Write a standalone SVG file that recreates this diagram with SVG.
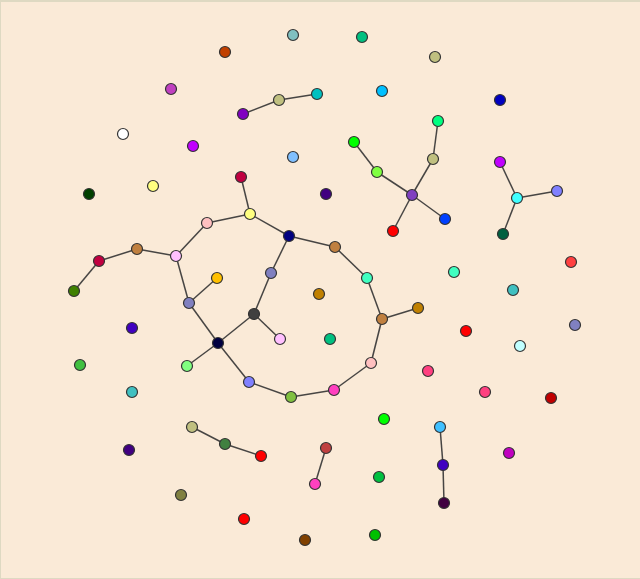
<svg xmlns="http://www.w3.org/2000/svg" width="640" height="579" viewBox="0 0 640 579">
<style>
.e line{stroke:#333;stroke-width:1.5;stroke-opacity:0.9}
.n circle{stroke:#333;stroke-width:1.2}
</style>
<rect x="0" y="0" width="640" height="579" fill="#ded9c2"/>
<rect x="1" y="2" width="639" height="576" fill="#faead7"/>
<g class="e" id="connectors">
<line x1="243" y1="114" x2="279" y2="100"/>
<line x1="279" y1="100" x2="317" y2="94"/>
<line x1="354" y1="142" x2="377" y2="172"/>
<line x1="377" y1="172" x2="412" y2="195"/>
<line x1="438" y1="121" x2="433" y2="159"/>
<line x1="433" y1="159" x2="412" y2="195"/>
<line x1="412" y1="195" x2="445" y2="219"/>
<line x1="412" y1="195" x2="393" y2="231"/>
<line x1="500" y1="162" x2="517" y2="198"/>
<line x1="517" y1="198" x2="557" y2="191"/>
<line x1="517" y1="198" x2="503" y2="234"/>
<line x1="241" y1="177" x2="250" y2="214"/>
<line x1="250" y1="214" x2="207" y2="223"/>
<line x1="207" y1="223" x2="176" y2="256"/>
<line x1="250" y1="214" x2="289" y2="236"/>
<line x1="289" y1="236" x2="335" y2="247"/>
<line x1="335" y1="247" x2="367" y2="278"/>
<line x1="367" y1="278" x2="382" y2="319"/>
<line x1="382" y1="319" x2="371" y2="363"/>
<line x1="371" y1="363" x2="334" y2="390"/>
<line x1="334" y1="390" x2="291" y2="397"/>
<line x1="291" y1="397" x2="249" y2="382"/>
<line x1="249" y1="382" x2="218" y2="343"/>
<line x1="382" y1="319" x2="418" y2="308"/>
<line x1="289" y1="236" x2="271" y2="273"/>
<line x1="271" y1="273" x2="254" y2="314"/>
<line x1="254" y1="314" x2="218" y2="343"/>
<line x1="254" y1="314" x2="280" y2="339"/>
<line x1="218" y1="343" x2="189" y2="303"/>
<line x1="189" y1="303" x2="176" y2="256"/>
<line x1="189" y1="303" x2="217" y2="278"/>
<line x1="218" y1="343" x2="187" y2="366"/>
<line x1="176" y1="256" x2="137" y2="249"/>
<line x1="137" y1="249" x2="99" y2="261"/>
<line x1="99" y1="261" x2="74" y2="291"/>
<line x1="192" y1="427" x2="225" y2="444"/>
<line x1="225" y1="444" x2="261" y2="456"/>
<line x1="326" y1="448" x2="315" y2="484"/>
<line x1="440" y1="427" x2="443" y2="465"/>
<line x1="443" y1="465" x2="444" y2="503"/>
</g>
<g class="n">
<g id="n1"><circle cx="171" cy="89" r="5.5" fill="#c040c0"/></g>
<g id="n2"><circle cx="123" cy="134" r="5.5" fill="#ffffff"/></g>
<g id="n3"><circle cx="193" cy="146" r="5.5" fill="#c000ff"/></g>
<g id="n4"><circle cx="153" cy="186" r="5.5" fill="#ffff80"/></g>
<g id="n5"><circle cx="89" cy="194" r="5.5" fill="#004000"/></g>
<g id="n6"><circle cx="225" cy="52" r="5.5" fill="#c04000"/></g>
<g id="n7"><circle cx="293" cy="35" r="5.5" fill="#80c0c0"/></g>
<g id="n8"><circle cx="362" cy="37" r="5.5" fill="#00c080"/></g>
<g id="n9"><circle cx="279" cy="100" r="5.5" fill="#c0c080"/></g>
<g id="n10"><circle cx="317" cy="94" r="5.5" fill="#00c0c0"/></g>
<g id="n11"><circle cx="243" cy="114" r="5.5" fill="#8000c0"/></g>
<g id="n12"><circle cx="382" cy="91" r="5.5" fill="#00c0ff"/></g>
<g id="n13"><circle cx="354" cy="142" r="5.5" fill="#00ff00"/></g>
<g id="n14"><circle cx="377" cy="172" r="5.5" fill="#80ff40"/></g>
<g id="n15"><circle cx="293" cy="157" r="5.5" fill="#80c0ff"/></g>
<g id="n16"><circle cx="241" cy="177" r="5.5" fill="#c00040"/></g>
<g id="n17"><circle cx="326" cy="194" r="5.5" fill="#400080"/></g>
<g id="n18"><circle cx="412" cy="195" r="5.5" fill="#8040c0"/></g>
<g id="n19"><circle cx="435" cy="57" r="5.5" fill="#c0c080"/></g>
<g id="n20"><circle cx="500" cy="100" r="5.5" fill="#0000c0"/></g>
<g id="n21"><circle cx="438" cy="121" r="5.5" fill="#00ff80"/></g>
<g id="n22"><circle cx="433" cy="159" r="5.5" fill="#c0c080"/></g>
<g id="n23"><circle cx="500" cy="162" r="5.5" fill="#c000ff"/></g>
<g id="n24"><circle cx="557" cy="191" r="5.5" fill="#8080ff"/></g>
<g id="n25"><circle cx="517" cy="198" r="5.5" fill="#40ffff"/></g>
<g id="n26"><circle cx="207" cy="223" r="5.5" fill="#ffc0c0"/></g>
<g id="n27"><circle cx="137" cy="249" r="5.5" fill="#c08040"/></g>
<g id="n28"><circle cx="99" cy="261" r="5.5" fill="#c00040"/></g>
<g id="n29"><circle cx="176" cy="256" r="5.5" fill="#ffc0ff"/></g>
<g id="n30"><circle cx="74" cy="291" r="5.5" fill="#408000"/></g>
<g id="n31"><circle cx="217" cy="278" r="5.5" fill="#ffc000"/></g>
<g id="n32"><circle cx="189" cy="303" r="5.5" fill="#8080c0"/></g>
<g id="n33"><circle cx="132" cy="328" r="5.5" fill="#4000c0"/></g>
<g id="n34"><circle cx="218" cy="343" r="5.5" fill="#000040"/></g>
<g id="n35"><circle cx="80" cy="365" r="5.5" fill="#40c040"/></g>
<g id="n36"><circle cx="187" cy="366" r="5.5" fill="#80ff80"/></g>
<g id="n37"><circle cx="132" cy="392" r="5.5" fill="#40c0c0"/></g>
<g id="n38"><circle cx="250" cy="214" r="5.5" fill="#ffff80"/></g>
<g id="n39"><circle cx="289" cy="236" r="5.5" fill="#000080"/></g>
<g id="n40"><circle cx="335" cy="247" r="5.5" fill="#c08040"/></g>
<g id="n41"><circle cx="271" cy="273" r="5.5" fill="#8080c0"/></g>
<g id="n42"><circle cx="367" cy="278" r="5.5" fill="#40ffc0"/></g>
<g id="n43"><circle cx="319" cy="294" r="5.5" fill="#c08000"/></g>
<g id="n44"><circle cx="254" cy="314" r="5.5" fill="#404040"/></g>
<g id="n45"><circle cx="382" cy="319" r="5.5" fill="#c08040"/></g>
<g id="n46"><circle cx="418" cy="308" r="5.5" fill="#c08000"/></g>
<g id="n47"><circle cx="280" cy="339" r="5.5" fill="#ffc0ff"/></g>
<g id="n48"><circle cx="330" cy="339" r="5.5" fill="#00c080"/></g>
<g id="n49"><circle cx="371" cy="363" r="5.5" fill="#ffc0c0"/></g>
<g id="n50"><circle cx="249" cy="382" r="5.5" fill="#8080ff"/></g>
<g id="n51"><circle cx="334" cy="390" r="5.5" fill="#ff40c0"/></g>
<g id="n52"><circle cx="393" cy="231" r="5.5" fill="#ff0000"/></g>
<g id="n53"><circle cx="428" cy="371" r="5.5" fill="#ff4080"/></g>
<g id="n54"><circle cx="445" cy="219" r="5.5" fill="#0040ff"/></g>
<g id="n55"><circle cx="503" cy="234" r="5.5" fill="#006040"/></g>
<g id="n56"><circle cx="571" cy="262" r="5.5" fill="#ff4040"/></g>
<g id="n57"><circle cx="454" cy="272" r="5.5" fill="#40ffc0"/></g>
<g id="n58"><circle cx="513" cy="290" r="5.5" fill="#40c0c0"/></g>
<g id="n59"><circle cx="466" cy="331" r="5.5" fill="#ff0000"/></g>
<g id="n60"><circle cx="575" cy="325" r="5.5" fill="#8080c0"/></g>
<g id="n61"><circle cx="520" cy="346" r="5.5" fill="#c0ffff"/></g>
<g id="n62"><circle cx="485" cy="392" r="5.5" fill="#ff4080"/></g>
<g id="n63"><circle cx="192" cy="427" r="5.5" fill="#c0c080"/></g>
<g id="n64"><circle cx="129" cy="450" r="5.5" fill="#400080"/></g>
<g id="n65"><circle cx="181" cy="495" r="5.5" fill="#808040"/></g>
<g id="n66"><circle cx="291" cy="397" r="5.5" fill="#80c040"/></g>
<g id="n67"><circle cx="384" cy="419" r="5.5" fill="#00ff00"/></g>
<g id="n68"><circle cx="225" cy="444" r="5.5" fill="#408040"/></g>
<g id="n69"><circle cx="261" cy="456" r="5.5" fill="#ff0000"/></g>
<g id="n70"><circle cx="326" cy="448" r="5.5" fill="#c04040"/></g>
<g id="n71"><circle cx="315" cy="484" r="5.5" fill="#ff40c0"/></g>
<g id="n72"><circle cx="379" cy="477" r="5.5" fill="#00c040"/></g>
<g id="n73"><circle cx="244" cy="519" r="5.5" fill="#ff0000"/></g>
<g id="n74"><circle cx="305" cy="540" r="5.5" fill="#804000"/></g>
<g id="n75"><circle cx="375" cy="535" r="5.5" fill="#00c000"/></g>
<g id="n76"><circle cx="551" cy="398" r="5.5" fill="#c00000"/></g>
<g id="n77"><circle cx="440" cy="427" r="5.5" fill="#40c0ff"/></g>
<g id="n78"><circle cx="509" cy="453" r="5.5" fill="#c000c0"/></g>
<g id="n79"><circle cx="443" cy="465" r="5.5" fill="#4000c0"/></g>
<g id="n80"><circle cx="444" cy="503" r="5.5" fill="#400040"/></g>
</g>
</svg>
